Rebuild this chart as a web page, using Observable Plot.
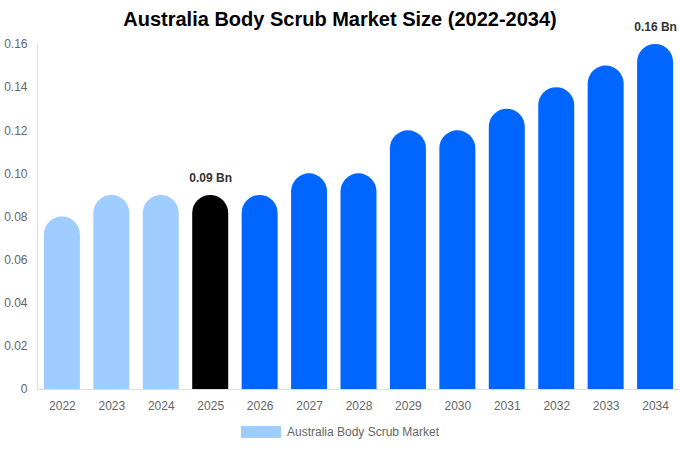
<!DOCTYPE html>
<html>
<head>
<meta charset="utf-8">
<script src="https://cdn.jsdelivr.net/npm/d3@7"></script>
<script src="https://cdn.jsdelivr.net/npm/@observablehq/plot@0.6"></script>
<style>
  html, body { margin: 0; padding: 0; background: #fff; }
  body { width: 680px; height: 450px; position: relative; font-family: "Liberation Sans", Arial, Helvetica, sans-serif; }
  #title { position: absolute; top: 8px; left: 0; width: 680px; text-align: center; font-size: 20px; font-weight: bold; color: #000; z-index: 2; }
  #chart { position: absolute; top: 0; left: 0; }
  #legend { position: absolute; top: 425px; left: 0; width: 680px; display: flex; justify-content: center; align-items: center; font-size: 12px; color: #666; }
  #legend .sw { width: 40px; height: 12px; background: #a0cdff; margin-right: 6px; }
</style>
</head>
<body>
<div id="title">Australia Body Scrub Market Size (2022-2034)</div>
<div id="chart"></div>
<div id="legend"><span class="sw"></span><span>Australia Body Scrub Market</span></div>
<script>
const years = [2022, 2023, 2024, 2025, 2026, 2027, 2028, 2029, 2030, 2031, 2032, 2033, 2034];
const values = [0.08, 0.09, 0.09, 0.09, 0.09, 0.10, 0.10, 0.12, 0.12, 0.13, 0.14, 0.15, 0.16];
const yTicks = [0, 0.02, 0.04, 0.06, 0.08, 0.10, 0.12, 0.14, 0.16];
const labelYears = [2025, 2034];
const seriesName = "Australia Body Scrub Market";

const data = years.map((y, i) => ({year: String(y), value: values[i]}));
const colorOf = y => (+y < 2025 ? "#a0cdff" : +y === 2025 ? "#000000" : "#0066ff");

const chart = Plot.plot({
  width: 680,
  height: 420,
  marginLeft: 37,
  marginRight: 0,
  marginTop: 44,
  marginBottom: 31,
  style: {fontFamily: "'Liberation Sans', Arial, Helvetica, sans-serif", fontSize: "12px", overflow: "visible"},
  x: {domain: years.map(String), paddingInner: 0.272, paddingOuter: 0.14, round: false, label: null, tickSize: 0, tickPadding: 12},
  y: {domain: [0, 0.16], label: null},
  marks: [
    Plot.barY(data, {x: "year", y: "value", fill: d => colorOf(d.year), className: "rounded"}),
    Plot.axisY({ticks: yTicks, tickSize: 0, tickPadding: 10, tickFormat: d => d === 0 ? "0" : d.toFixed(2), fill: "#666", label: null}),
    Plot.axisX({tickSize: 0, tickPadding: 12, fill: "#666", label: null}),
    Plot.frame({anchor: "left", stroke: "#ddd"}),
    Plot.ruleY([0], {stroke: "#ddd"}),
    Plot.text(data.filter(d => labelYears.includes(+d.year)), {
      x: "year", y: "value", text: d => d.value.toFixed(2) + " Bn",
      dy: -17, fontWeight: "bold", fill: "#333", fontSize: 12
    })
  ]
});

// Turn each bar into a shape with a semicircular top and square bottom
d3.select(chart).selectAll("g.rounded rect").each(function() {
  const x = +this.getAttribute("x"), y = +this.getAttribute("y");
  const w = +this.getAttribute("width"), h = +this.getAttribute("height");
  const r = Math.min(w / 2, h);
  const p = document.createElementNS("http://www.w3.org/2000/svg", "path");
  p.setAttribute("d", `M${x},${y + h}V${y + r}A${r},${r} 0 0 1 ${x + w},${y + r}V${y + h}Z`);
  p.setAttribute("fill", this.getAttribute("fill"));
  this.replaceWith(p);
});

document.getElementById("chart").appendChild(chart);
</script>
</body>
</html>
